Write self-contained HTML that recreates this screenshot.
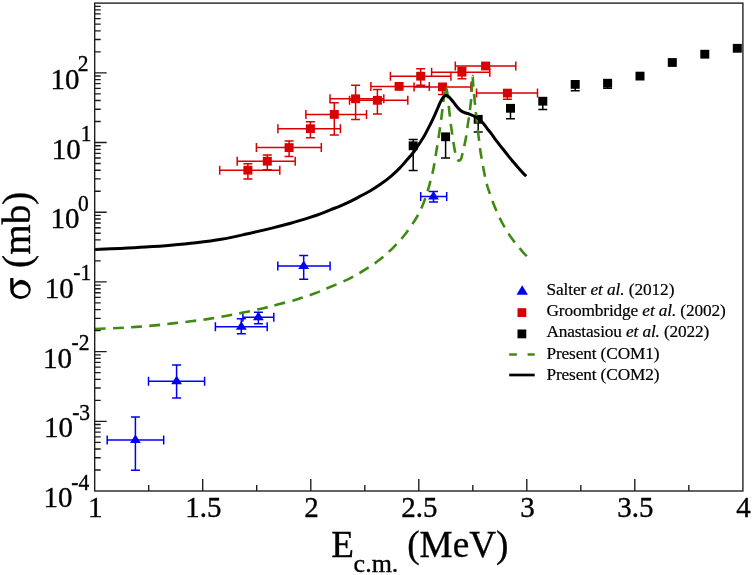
<!DOCTYPE html>
<html><head><meta charset="utf-8"><style>html,body{margin:0;padding:0;background:#fff;}svg{display:block;will-change:transform;}</style></head>
<body><svg width="752" height="575" viewBox="0 0 752 575">
<rect width="752" height="575" fill="#fff"/>
<path d="M107.2,440.0H163.7M107.2,435.5V444.5M163.7,435.5V444.5M135.4,417.0V440.0M130.9,417.0H139.9M135.4,440.0V470.3M130.9,470.3H139.9" stroke="#0000f5" stroke-width="1.5" fill="none"/>
<path d="M135.4,434.4L140.8,443.0L130.0,443.0Z" fill="#0000f5"/>
<path d="M148.5,381.2H204.6M148.5,376.7V385.7M204.6,376.7V385.7M176.6,365.0V381.2M172.1,365.0H181.1M176.6,381.2V397.9M172.1,397.9H181.1" stroke="#0000f5" stroke-width="1.5" fill="none"/>
<path d="M176.6,375.6L182.0,384.2L171.2,384.2Z" fill="#0000f5"/>
<path d="M215.4,326.8H267.2M215.4,322.3V331.3M267.2,322.3V331.3M241.3,318.8V326.8M236.8,318.8H245.8M241.3,326.8V333.8M236.8,333.8H245.8" stroke="#0000f5" stroke-width="1.5" fill="none"/>
<path d="M241.3,321.2L246.8,329.8L235.9,329.8Z" fill="#0000f5"/>
<path d="M242.9,317.2H273.8M242.9,312.7V321.7M273.8,312.7V321.7M258.4,312.2V317.2M253.9,312.2H262.9M258.4,317.2V323.8M253.9,323.8H262.9" stroke="#0000f5" stroke-width="1.5" fill="none"/>
<path d="M258.4,311.6L263.8,320.2L252.9,320.2Z" fill="#0000f5"/>
<path d="M277.8,266.1H330.1M277.8,261.6V270.6M330.1,261.6V270.6M303.7,255.4V266.1M299.2,255.4H308.2M303.7,266.1V279.3M299.2,279.3H308.2" stroke="#0000f5" stroke-width="1.5" fill="none"/>
<path d="M303.7,260.5L309.1,269.1L298.2,269.1Z" fill="#0000f5"/>
<path d="M420.7,196.5H446.7M420.7,192.0V201.0M446.7,192.0V201.0M433.5,191.4V196.5M429.0,191.4H438.0M433.5,196.5V202.1M429.0,202.1H438.0" stroke="#0000f5" stroke-width="1.5" fill="none"/>
<path d="M433.5,190.9L438.9,199.5L428.1,199.5Z" fill="#0000f5"/>
<path d="M219.7,170.2H279.8M219.7,165.7V174.7M279.8,165.7V174.7M247.9,163.8V170.2M243.4,163.8H252.4M247.9,170.2V179.0M243.4,179.0H252.4" stroke="#d80000" stroke-width="1.5" fill="none"/>
<rect x="243.4" y="165.8" width="9" height="8.8" fill="#d80000"/>
<path d="M237.2,161.2H295.2M237.2,156.7V165.7M295.2,156.7V165.7M267.3,155.0V161.2M262.8,155.0H271.8M267.3,161.2V169.7M262.8,169.7H271.8" stroke="#d80000" stroke-width="1.5" fill="none"/>
<rect x="262.8" y="156.8" width="9" height="8.8" fill="#d80000"/>
<path d="M256.4,147.6H321.3M256.4,143.1V152.1M321.3,143.1V152.1M289.1,141.0V147.6M284.6,141.0H293.6M289.1,147.6V156.4M284.6,156.4H293.6" stroke="#d80000" stroke-width="1.5" fill="none"/>
<rect x="284.6" y="143.2" width="9" height="8.8" fill="#d80000"/>
<path d="M277.9,128.7H340.4M277.9,124.2V133.2M340.4,124.2V133.2M310.4,121.8V128.7M305.9,121.8H314.9M310.4,128.7V137.8M305.9,137.8H314.9" stroke="#d80000" stroke-width="1.5" fill="none"/>
<rect x="305.9" y="124.3" width="9" height="8.8" fill="#d80000"/>
<path d="M305.9,114.4H366.5M305.9,109.9V118.9M366.5,109.9V118.9M334.3,102.7V114.4M329.8,102.7H338.8M334.3,114.4V135.1M329.8,135.1H338.8" stroke="#d80000" stroke-width="1.5" fill="none"/>
<rect x="329.8" y="110.0" width="9" height="8.8" fill="#d80000"/>
<path d="M330.0,98.8H383.8M330.0,94.3V103.3M383.8,94.3V103.3M355.6,85.3V98.8M351.1,85.3H360.1M355.6,98.8V119.6M351.1,119.6H360.1" stroke="#d80000" stroke-width="1.5" fill="none"/>
<rect x="351.1" y="94.4" width="9" height="8.8" fill="#d80000"/>
<path d="M349.5,100.3H407.8M349.5,95.8V104.8M407.8,95.8V104.8M377.4,89.5V100.3M372.9,89.5H381.9M377.4,100.3V114.1M372.9,114.1H381.9" stroke="#d80000" stroke-width="1.5" fill="none"/>
<rect x="372.9" y="95.9" width="9" height="8.8" fill="#d80000"/>
<path d="M370.9,86.4H429.3M370.9,81.9V90.9M429.3,81.9V90.9" stroke="#d80000" stroke-width="1.5" fill="none"/>
<rect x="394.6" y="82.0" width="9" height="8.8" fill="#d80000"/>
<path d="M390.4,76.2H450.9M390.4,71.7V80.7M450.9,71.7V80.7M420.7,68.8V76.2M416.2,68.8H425.2M420.7,76.2V85.3M416.2,85.3H425.2" stroke="#d80000" stroke-width="1.5" fill="none"/>
<rect x="416.2" y="71.8" width="9" height="8.8" fill="#d80000"/>
<path d="M414.1,86.9H470.9M414.1,82.4V91.4M470.9,82.4V91.4M442.5,86.9V94.4M438.0,94.4H447.0" stroke="#d80000" stroke-width="1.5" fill="none"/>
<rect x="438.0" y="82.5" width="9" height="8.8" fill="#d80000"/>
<path d="M431.6,72.2H489.8M431.6,67.7V76.7M489.8,67.7V76.7M461.9,67.5V72.2M457.4,67.5H466.4M461.9,72.2V78.7M457.4,78.7H466.4" stroke="#d80000" stroke-width="1.5" fill="none"/>
<rect x="457.4" y="67.8" width="9" height="8.8" fill="#d80000"/>
<path d="M455.3,66.0H515.8M455.3,61.5V70.5M515.8,61.5V70.5" stroke="#d80000" stroke-width="1.5" fill="none"/>
<rect x="481.1" y="61.6" width="9" height="8.8" fill="#d80000"/>
<path d="M476.5,93.1H537.5M476.5,88.6V97.6M537.5,88.6V97.6M507.4,93.1V99.2M502.9,99.2H511.9" stroke="#d80000" stroke-width="1.5" fill="none"/>
<rect x="502.9" y="88.7" width="9" height="8.8" fill="#d80000"/>
<path d="M413.2,139.6V145.8M408.7,139.6H417.7M413.2,145.8V170.4M408.7,170.4H417.7" stroke="#000" stroke-width="1.5" fill="none"/>
<rect x="408.7" y="141.4" width="9" height="8.8" fill="#000"/>
<path d="M445.6,136.8V158.0M441.1,158.0H450.1" stroke="#000" stroke-width="1.5" fill="none"/>
<rect x="441.1" y="132.4" width="9" height="8.8" fill="#000"/>
<path d="M478.2,119.3V132.1M473.7,132.1H482.7" stroke="#000" stroke-width="1.5" fill="none"/>
<rect x="473.7" y="114.9" width="9" height="8.8" fill="#000"/>
<path d="M510.5,108.3V118.7M506.0,118.7H515.0" stroke="#000" stroke-width="1.5" fill="none"/>
<rect x="506.0" y="103.9" width="9" height="8.8" fill="#000"/>
<path d="M542.8,101.2V109.4M538.3,109.4H547.3" stroke="#000" stroke-width="1.5" fill="none"/>
<rect x="538.3" y="96.8" width="9" height="8.8" fill="#000"/>
<path d="M575.2,84.4V90.8M570.7,90.8H579.7" stroke="#000" stroke-width="1.5" fill="none"/>
<rect x="570.7" y="80.0" width="9" height="8.8" fill="#000"/>
<path d="M607.6,83.2V88.3M603.1,88.3H612.1" stroke="#000" stroke-width="1.5" fill="none"/>
<rect x="603.1" y="78.8" width="9" height="8.8" fill="#000"/>
<path d="" stroke="#000" stroke-width="1.5" fill="none"/>
<rect x="635.5" y="71.7" width="9" height="8.8" fill="#000"/>
<path d="" stroke="#000" stroke-width="1.5" fill="none"/>
<rect x="667.8" y="58.1" width="9" height="8.8" fill="#000"/>
<path d="" stroke="#000" stroke-width="1.5" fill="none"/>
<rect x="700.3" y="49.8" width="9" height="8.8" fill="#000"/>
<path d="" stroke="#000" stroke-width="1.5" fill="none"/>
<rect x="732.8" y="43.9" width="9" height="8.8" fill="#000"/>
<path id="ga" d="M94.80,329.00C95.67,328.97 96.08,328.97 100.00,328.80C103.92,328.63 112.22,328.32 118.30,328.00C124.38,327.68 130.38,327.33 136.50,326.90C142.62,326.47 148.97,325.98 155.00,325.40C161.03,324.82 166.72,324.08 172.70,323.40C178.68,322.72 184.88,322.05 190.90,321.30C196.92,320.55 202.78,319.82 208.80,318.90C214.82,317.98 221.05,316.90 227.00,315.80C232.95,314.70 238.58,313.53 244.50,312.30C250.42,311.07 257.00,309.68 262.50,308.40C268.00,307.12 271.67,306.13 277.50,304.60C283.33,303.07 291.25,301.08 297.50,299.20C303.75,297.32 309.87,295.20 315.00,293.30C320.13,291.40 322.72,290.17 328.30,287.80C333.88,285.43 342.50,282.03 348.50,279.10C354.50,276.17 359.13,273.42 364.30,270.20C369.47,266.98 374.72,263.53 379.50,259.80C384.28,256.07 388.75,252.02 393.00,247.80C397.25,243.58 401.25,239.25 405.00,234.50C408.75,229.75 412.63,224.00 415.50,219.30C418.37,214.60 420.25,210.77 422.20,206.30C424.15,201.83 425.85,196.62 427.20,192.50C428.55,188.38 429.32,185.25 430.30,181.60C431.28,177.95 432.32,174.25 433.10,170.60C433.88,166.95 434.30,163.87 435.00,159.70C435.70,155.53 436.52,150.55 437.30,145.60C438.08,140.65 438.95,135.18 439.70,130.00C440.45,124.82 441.20,119.17 441.80,114.50C442.40,109.83 442.85,105.58 443.30,102.00C443.75,98.42 444.12,95.33 444.50,93.00C444.88,90.67 445.22,88.50 445.60,88.00" fill="none" stroke="#3f8a12" stroke-width="2.6" stroke-dasharray="10.9 7.28" stroke-dashoffset="0.00"/>
<path id="gb" d="M445.60,88.00C445.98,87.50 446.43,88.50 446.80,90.00C447.17,91.50 447.38,93.48 447.80,97.00C448.22,100.52 448.80,106.57 449.30,111.10C449.80,115.63 450.32,120.40 450.80,124.20C451.28,128.00 451.73,130.68 452.20,133.90C452.67,137.12 453.13,140.57 453.60,143.50C454.07,146.43 454.52,149.25 455.00,151.50C455.48,153.75 455.95,155.53 456.50,157.00C457.05,158.47 457.75,159.72 458.30,160.30C458.85,160.88 459.32,160.80 459.80,160.50C460.28,160.20 460.75,159.67 461.20,158.50C461.65,157.33 462.03,155.38 462.50,153.50C462.97,151.62 463.43,149.78 464.00,147.20C464.57,144.62 465.30,141.52 465.90,138.00C466.50,134.48 467.02,130.12 467.60,126.10C468.18,122.08 468.82,118.25 469.40,113.90C469.98,109.55 470.68,104.32 471.10,100.00C471.52,95.68 471.67,92.00 471.90,88.00C472.13,84.00 472.27,76.33 472.50,76.00" fill="none" stroke="#3f8a12" stroke-width="2.6" stroke-dasharray="10.9 7.28" stroke-dashoffset="-0.20"/>
<path id="gc" d="M472.50,76.00C472.73,75.67 472.95,82.00 473.30,86.00C473.65,90.00 474.18,95.63 474.60,100.00C475.02,104.37 475.37,108.13 475.80,112.20C476.23,116.27 476.73,120.33 477.20,124.40C477.67,128.47 478.08,132.25 478.60,136.60C479.12,140.95 479.67,146.15 480.30,150.50C480.93,154.85 481.62,158.35 482.40,162.70C483.18,167.05 484.18,172.72 485.00,176.60C485.82,180.48 486.60,183.47 487.30,186.00C488.00,188.53 488.02,188.45 489.20,191.80C490.38,195.15 492.27,200.98 494.40,206.10C496.53,211.22 499.15,217.18 502.00,222.50C504.85,227.82 507.98,233.03 511.50,238.00C515.02,242.97 520.52,249.25 523.10,252.30C525.68,255.35 526.35,255.63 527.00,256.30" fill="none" stroke="#3f8a12" stroke-width="2.6" stroke-dasharray="10.9 7.28" stroke-dashoffset="0.20"/>
<path d="M95.00,249.40C99.22,249.23 111.88,248.78 120.30,248.40C128.72,248.02 137.08,247.62 145.50,247.10C153.92,246.58 162.37,246.02 170.80,245.30C179.23,244.58 187.68,243.80 196.10,242.80C204.52,241.80 212.88,240.77 221.30,239.30C229.72,237.83 238.17,235.87 246.60,234.00C255.03,232.13 264.57,229.88 271.90,228.10C279.23,226.32 285.70,224.63 290.60,223.30C295.50,221.97 298.07,221.08 301.30,220.10C304.53,219.12 306.82,218.45 310.00,217.40C313.18,216.35 316.92,215.10 320.40,213.80C323.88,212.50 327.63,210.88 330.90,209.60C334.17,208.32 336.75,207.47 340.00,206.10C343.25,204.73 346.92,203.10 350.40,201.40C353.88,199.70 357.63,197.63 360.90,195.90C364.17,194.17 366.75,192.93 370.00,191.00C373.25,189.07 376.92,186.75 380.40,184.30C383.88,181.85 387.77,178.92 390.90,176.30C394.03,173.68 397.00,170.78 399.20,168.60C401.40,166.42 402.27,165.25 404.10,163.20C405.93,161.15 408.48,158.30 410.20,156.30C411.92,154.30 413.08,153.00 414.40,151.20C415.72,149.40 416.98,147.20 418.10,145.50C419.22,143.80 419.98,142.75 421.10,141.00C422.22,139.25 423.43,137.45 424.80,135.00C426.17,132.55 427.73,129.42 429.30,126.30C430.87,123.18 432.75,119.43 434.20,116.30C435.65,113.17 436.90,110.02 438.00,107.50C439.10,104.98 439.87,103.00 440.80,101.20C441.73,99.40 442.73,97.65 443.60,96.70C444.47,95.75 445.20,95.57 446.00,95.50C446.80,95.43 447.42,95.52 448.40,96.30C449.38,97.08 450.73,98.80 451.90,100.20C453.07,101.60 454.23,103.25 455.40,104.70C456.57,106.15 457.75,107.75 458.90,108.90C460.05,110.05 461.15,110.92 462.30,111.60C463.45,112.28 464.63,112.58 465.80,113.00C466.97,113.42 468.13,113.68 469.30,114.10C470.47,114.52 471.65,114.98 472.80,115.50C473.95,116.02 475.08,116.55 476.20,117.20C477.32,117.85 478.33,118.40 479.50,119.40C480.67,120.40 482.15,122.00 483.20,123.20C484.25,124.40 484.93,125.47 485.80,126.60C486.67,127.73 487.52,128.87 488.40,130.00C489.28,131.13 490.07,132.02 491.10,133.40C492.13,134.78 493.22,136.43 494.60,138.30C495.98,140.17 497.80,142.53 499.40,144.60C501.00,146.67 502.62,148.70 504.20,150.70C505.78,152.70 507.32,154.65 508.90,156.60C510.48,158.55 512.10,160.48 513.70,162.40C515.30,164.32 516.90,166.27 518.50,168.10C520.10,169.93 522.02,172.05 523.30,173.40C524.58,174.75 525.72,175.73 526.20,176.20" fill="none" stroke="#000" stroke-width="3" stroke-linejoin="round"/>
<path d="M148.7,491.0V485.0M202.7,491.0V479.0M256.7,491.0V485.0M310.8,491.0V479.0M364.8,491.0V485.0M418.8,491.0V479.0M472.8,491.0V485.0M526.8,491.0V479.0M580.8,491.0V485.0M634.8,491.0V479.0M688.8,491.0V485.0M94.7,470.0H100.7M94.7,457.7H100.7M94.7,449.0H100.7M94.7,442.3H100.7M94.7,436.8H100.7M94.7,432.1H100.7M94.7,428.1H100.7M94.7,424.5H100.7M94.7,421.3H106.7M94.7,400.3H100.7M94.7,388.0H100.7M94.7,379.3H100.7M94.7,372.6H100.7M94.7,367.1H100.7M94.7,362.4H100.7M94.7,358.4H100.7M94.7,354.8H100.7M94.7,351.6H106.7M94.7,330.6H100.7M94.7,318.3H100.7M94.7,309.6H100.7M94.7,302.9H100.7M94.7,297.4H100.7M94.7,292.7H100.7M94.7,288.7H100.7M94.7,285.1H100.7M94.7,281.9H106.7M94.7,260.9H100.7M94.7,248.6H100.7M94.7,239.9H100.7M94.7,233.2H100.7M94.7,227.7H100.7M94.7,223.0H100.7M94.7,219.0H100.7M94.7,215.4H100.7M94.7,212.2H106.7M94.7,191.2H100.7M94.7,178.9H100.7M94.7,170.2H100.7M94.7,163.5H100.7M94.7,158.0H100.7M94.7,153.3H100.7M94.7,149.3H100.7M94.7,145.7H100.7M94.7,142.5H106.7M94.7,121.5H100.7M94.7,109.2H100.7M94.7,100.5H100.7M94.7,93.8H100.7M94.7,88.3H100.7M94.7,83.6H100.7M94.7,79.6H100.7M94.7,76.0H100.7M94.7,72.8H106.7M94.7,51.8H100.7M94.7,39.5H100.7M94.7,30.8H100.7M94.7,24.1H100.7M94.7,18.6H100.7M94.7,13.9H100.7M94.7,9.9H100.7M94.7,6.3H100.7" stroke="#1a1a1a" stroke-width="1.35" fill="none"/>
<rect x="94.7" y="3.1" width="648.2" height="487.9" fill="none" stroke="#1a1a1a" stroke-width="1.35"/>
<text transform="translate(95.3,517.3) scale(1,1.035)" font-family="Liberation Serif, serif" font-size="29" text-anchor="middle" fill="#000" stroke="#000" stroke-width="0.35">1</text>
<text transform="translate(203.3,517.3) scale(1,1.035)" font-family="Liberation Serif, serif" font-size="29" text-anchor="middle" fill="#000" stroke="#000" stroke-width="0.35">1.5</text>
<text transform="translate(311.4,517.3) scale(1,1.035)" font-family="Liberation Serif, serif" font-size="29" text-anchor="middle" fill="#000" stroke="#000" stroke-width="0.35">2</text>
<text transform="translate(419.4,517.3) scale(1,1.035)" font-family="Liberation Serif, serif" font-size="29" text-anchor="middle" fill="#000" stroke="#000" stroke-width="0.35">2.5</text>
<text transform="translate(527.4,517.3) scale(1,1.035)" font-family="Liberation Serif, serif" font-size="29" text-anchor="middle" fill="#000" stroke="#000" stroke-width="0.35">3</text>
<text transform="translate(635.4,517.3) scale(1,1.035)" font-family="Liberation Serif, serif" font-size="29" text-anchor="middle" fill="#000" stroke="#000" stroke-width="0.35">3.5</text>
<text transform="translate(743.5,517.3) scale(1,1.035)" font-family="Liberation Serif, serif" font-size="29" text-anchor="middle" fill="#000" stroke="#000" stroke-width="0.35">4</text>
<text transform="translate(72.4,507.0) scale(1,1.035)" font-family="Liberation Serif, serif" font-size="29" text-anchor="end" fill="#000" stroke="#000" stroke-width="0.35">10</text>
<text transform="translate(71.3,489.5) scale(1,1.03)" font-family="Liberation Serif, serif" font-size="21.5" fill="#000" stroke="#000" stroke-width="0.35">-4</text>
<text transform="translate(73.1,437.3) scale(1,1.035)" font-family="Liberation Serif, serif" font-size="29" text-anchor="end" fill="#000" stroke="#000" stroke-width="0.35">10</text>
<text transform="translate(72.2,419.8) scale(1,1.03)" font-family="Liberation Serif, serif" font-size="21.5" fill="#000" stroke="#000" stroke-width="0.35">-3</text>
<text transform="translate(72.1,367.6) scale(1,1.035)" font-family="Liberation Serif, serif" font-size="29" text-anchor="end" fill="#000" stroke="#000" stroke-width="0.35">10</text>
<text transform="translate(71.5,350.1) scale(1,1.03)" font-family="Liberation Serif, serif" font-size="21.5" fill="#000" stroke="#000" stroke-width="0.35">-2</text>
<text transform="translate(73.7,297.9) scale(1,1.035)" font-family="Liberation Serif, serif" font-size="29" text-anchor="end" fill="#000" stroke="#000" stroke-width="0.35">10</text>
<text transform="translate(73.3,280.4) scale(1,1.03)" font-family="Liberation Serif, serif" font-size="21.5" fill="#000" stroke="#000" stroke-width="0.35">-1</text>
<text transform="translate(79.4,228.2) scale(1,1.035)" font-family="Liberation Serif, serif" font-size="29" text-anchor="end" fill="#000" stroke="#000" stroke-width="0.35">10</text>
<text transform="translate(77.9,210.7) scale(1,1.03)" font-family="Liberation Serif, serif" font-size="21.5" fill="#000" stroke="#000" stroke-width="0.35">0</text>
<text transform="translate(80.7,158.5) scale(1,1.035)" font-family="Liberation Serif, serif" font-size="29" text-anchor="end" fill="#000" stroke="#000" stroke-width="0.35">10</text>
<text transform="translate(80.7,141.0) scale(1,1.03)" font-family="Liberation Serif, serif" font-size="21.5" fill="#000" stroke="#000" stroke-width="0.35">1</text>
<text transform="translate(79.4,88.8) scale(1,1.035)" font-family="Liberation Serif, serif" font-size="29" text-anchor="end" fill="#000" stroke="#000" stroke-width="0.35">10</text>
<text transform="translate(77.8,71.3) scale(1,1.03)" font-family="Liberation Serif, serif" font-size="21.5" fill="#000" stroke="#000" stroke-width="0.35">2</text>
<path fill-rule="evenodd" d="M10.2,278H13.4L13.6,285.6C15.5,283 17.5,280.6 20.5,279.8A10.3,9.65 0 0 1 30.8,289.45A10.3,9.65 0 0 1 20.5,299.1A10.3,9.65 0 0 1 10.2,289.45ZM28.7,290.3A7.55,6 0 1 1 13.6,290.3A7.55,6 0 1 1 28.7,290.3Z" fill="#000"/>
<text transform="translate(30.3,267.9) rotate(-90)" font-family="Liberation Serif, serif" font-size="39.2" fill="#000" stroke="#000" stroke-width="0.35">(mb)</text>
<text x="331.2" y="557.4" font-family="Liberation Serif, serif" font-size="37.2" fill="#000" stroke="#000" stroke-width="0.35">E</text>
<text x="353.6" y="571.6" font-family="Liberation Serif, serif" font-size="26" fill="#000" stroke="#000" stroke-width="0.35">c.m.</text>
<text x="407.2" y="557.3" font-family="Liberation Serif, serif" font-size="37.2" fill="#000" stroke="#000" stroke-width="0.35">(MeV)</text>
<path d="M522.2,285.3L527.9,294.7L516.5,294.7Z" fill="#0000f5"/>
<rect x="517.5" y="308.2" width="8.8" height="8.8" fill="#d80000"/>
<rect x="517.5" y="329.5" width="8.8" height="8.8" fill="#000"/>
<path d="M509.2,354.5H516.9M527.6,354.5H534.7" stroke="#3f8a12" stroke-width="2.7"/>
<path d="M509.2,375H534.7" stroke="#000" stroke-width="2.7"/>
<text x="546.4" y="295.4" font-family="Liberation Serif, serif" font-size="17.3" textLength="128.0" fill="#000" stroke="#000" stroke-width="0.2">Salter <tspan font-style="italic">et al.</tspan> (2012)</text>
<text x="546.4" y="316.4" font-family="Liberation Serif, serif" font-size="17.3" textLength="179.4" fill="#000" stroke="#000" stroke-width="0.2">Groombridge <tspan font-style="italic">et al.</tspan> (2002)</text>
<text x="546.4" y="337.4" font-family="Liberation Serif, serif" font-size="17.3" textLength="162.9" fill="#000" stroke="#000" stroke-width="0.2">Anastasiou <tspan font-style="italic">et al.</tspan> (2022)</text>
<text x="546.4" y="358.5" font-family="Liberation Serif, serif" font-size="17.3" textLength="113.1" fill="#000" stroke="#000" stroke-width="0.2">Present (COM1)</text>
<text x="546.4" y="379.5" font-family="Liberation Serif, serif" font-size="17.3" textLength="113.1" fill="#000" stroke="#000" stroke-width="0.2">Present (COM2)</text>
</svg></body></html>
